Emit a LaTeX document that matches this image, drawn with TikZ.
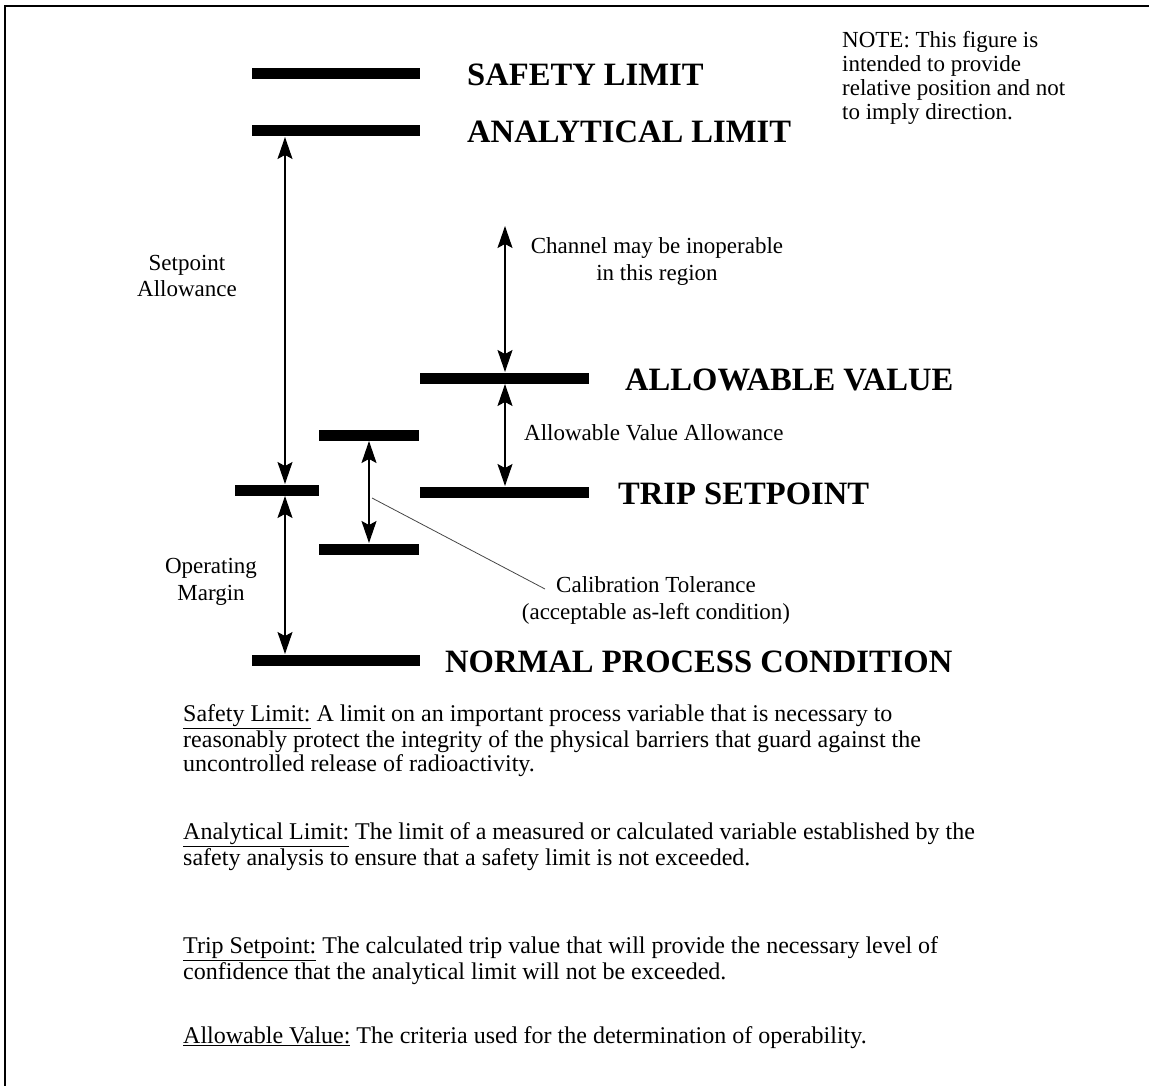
\documentclass[tikz,border=0pt]{standalone}
\usepackage{fontspec}
\setmainfont{Liberation Serif}
\usetikzlibrary{arrows.meta}
\begin{document}
\begin{tikzpicture}[x=1pt,y=-1pt,
  bar/.style={line width=11pt},
  dimline/.style={{Stealth[length=22pt,width=15pt,inset=4pt]}-{Stealth[length=22pt,width=15pt,inset=4pt]}, line width=1.3pt},
  level/.style={anchor=base west, inner sep=0pt, font=\fontsize{32.6}{36}\selectfont\bfseries},
  remark/.style={anchor=base, align=center, inner sep=0pt, font=\fontsize{23}{27}\selectfont},
  defn/.style={anchor=base west, align=left, inner sep=0pt, font=\fontsize{24}{24}\selectfont}]
  % Define colors
  \definecolor{leadercolor}{RGB}{70,70,70}

  % Page frame (only top and left edges are shown)
  \useasboundingbox (0,0) rectangle (1149,1086);
  \draw[line width=1.5pt] (5,1086) -- (5,6) -- (1149,6);

  % Draw the level bars
  \foreach \xa/\xb/\y in {252/420/74, 252/420/131, 420/589/378, 319/419/435,
                          235/319/490, 420/589/492, 319/419/549, 252/420/660} {
    \draw[bar] (\xa,\y) -- (\xb,\y);
  }

  % Level names
  \node[level] (sl) at (467,86) {SAFETY LIMIT};
  \node[level] (al) at (467,143) {ANALYTICAL LIMIT};
  \node[level] (av) at (625,390) {ALLOWABLE VALUE};
  \node[level] (ts) at (618,504) {TRIP SETPOINT};
  \node[level] (np) at (445,672) {NORMAL PROCESS CONDITION};

  % End points of the dimension arrows
  \coordinate (sa-top) at (285,137);
  \coordinate (sa-bot) at (285,484);
  \coordinate (om-top) at (285,496);
  \coordinate (om-bot) at (285,654);
  \coordinate (ct-top) at (369,441);
  \coordinate (ct-bot) at (369,543);
  \coordinate (ch-top) at (505,226);
  \coordinate (ch-bot) at (505,372);
  \coordinate (va-top) at (505,384);
  \coordinate (va-bot) at (505,486);

  % Dimension arrows
  \draw[dimline] (sa-top) -- (sa-bot);
  \draw[dimline] (om-top) -- (om-bot);
  \draw[dimline] (ct-top) -- (ct-bot);
  \draw[dimline] (ch-top) -- (ch-bot);
  \draw[dimline] (va-top) -- (va-bot);

  % Arrow labels
  \node[remark] (sa) at (187,297) {Setpoint\\Allowance};
  \node[remark] (om) at (211,600) {Operating\\Margin};
  \node[remark] (ch) at (657,280) {Channel may be inoperable\\in this region};
  \node[remark, anchor=base west] (va) at (524,440) {Allowable Value Allowance};
  \node[remark] (ct) at (656,619) {Calibration Tolerance\\(acceptable as-left condition)};

  % Leader to the calibration tolerance
  \coordinate (ct-mid) at (372,498);
  \coordinate (ct-end) at (545,589);
  \draw[leadercolor, line width=0.8pt] (ct-mid) -- (ct-end);

  % Note in the corner
  \node[remark, anchor=base west, align=left, font=\fontsize{23}{24}\selectfont] (note) at (842,120)
    {NOTE: This figure is\\intended to provide\\relative position and not\\to imply direction.};

  % Definitions
  \node[defn] (d1) at (183,771) {\underline{Safety Limit:} A limit on an important process variable that is necessary to\\
    reasonably protect the integrity of the physical barriers that guard against the\\
    uncontrolled release of radioactivity.};
  \node[defn] (d2) at (183,865) {\underline{Analytical Limit:} The limit of a measured or calculated variable established by the\\
    safety analysis to ensure that a safety limit is not exceeded.};
  \node[defn] (d3) at (183,979) {\underline{Trip Setpoint:} The calculated trip value that will provide the necessary level of\\
    confidence that the analytical limit will not be exceeded.};
  \node[defn] (d4) at (183,1043) {\underline{Allowable Value:} The criteria used for the determination of operability.};
\end{tikzpicture}
\end{document}
